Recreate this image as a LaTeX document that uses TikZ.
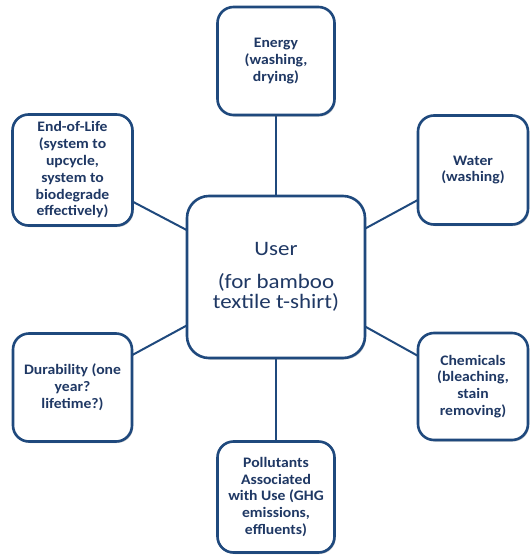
\documentclass[tikz,border=0pt]{standalone}
\usepackage{fontspec}
\setmainfont{Carlito}[BoldFont={Carlito Bold}]
\newfontfamily\boxfont{Carlito}[BoldFont={Carlito Bold}, FakeStretch=1.08]
\newfontfamily\hubfont{Carlito}[FakeStretch=1.12]
\usetikzlibrary{shadows}
\definecolor{edge}{RGB}{31,73,125}
\definecolor{ink}{RGB}{31,56,100}
\tikzset{
  box/.style={draw=edge, line width=2.6pt, fill=white, rounded corners=16pt,
    align=center, text=ink, font=\boxfont\bfseries\fontsize{14.5}{16.8}\selectfont,
    inner sep=2pt, drop shadow={shadow xshift=1.2pt, shadow yshift=-1.5pt, opacity=0.35, fill=black!60}},
  hub/.style={box, rounded corners=22pt, font=\hubfont\mdseries\fontsize{20.5}{20}\selectfont},
  link/.style={draw=edge, line width=2pt}
}
\begin{document}
\begin{tikzpicture}[x=1pt, y=-1pt]
\useasboundingbox (0,0) rectangle (530,555);
% links first, so the boxes sit on top of them
\coordinate (cU) at (276,277);
\coordinate (cE) at (276,61);
\coordinate (cW) at (473,170);
\coordinate (cL) at (72.5,170);
\coordinate (cD) at (72.5,387.5);
\coordinate (cC) at (473,386.5);
\coordinate (cP) at (276,497);
\draw[link] (cU) -- (cE);
\draw[link] (cU) -- (cW);
\draw[link] (cU) -- (cL);
\draw[link] (cU) -- (cD);
\draw[link] (cU) -- (cC);
\draw[link] (cU) -- (cP);
% boxes
\node[hub, minimum width=178pt, minimum height=162pt] (user) at (cU)
  {User\\[13pt](for bamboo\\textile t-shirt)};
\node[box, minimum width=117pt, minimum height=108pt] (energy) at (cE)
  {Energy\\(washing,\\drying)};
\node[box, minimum width=110pt, minimum height=109pt] (water) at (cW)
  {Water\\(washing)};
\node[box, minimum width=120pt, minimum height=111pt] (eol) at (cL)
  {End-of-Life\\(system to\\upcycle,\\system to\\biodegrade\\effectively)};
\node[box, minimum width=119pt, minimum height=108pt] (dur) at (cD)
  {Durability (one\\year?\\lifetime?)};
\node[box, minimum width=110pt, minimum height=107pt] (chem) at (cC)
  {Chemicals\\(bleaching,\\stain\\removing)};
\node[box, minimum width=117pt, minimum height=111pt] (poll) at (cP)
  {Pollutants\\Associated\\with Use (GHG\\emissions,\\effluents)};
\end{tikzpicture}
\end{document}
